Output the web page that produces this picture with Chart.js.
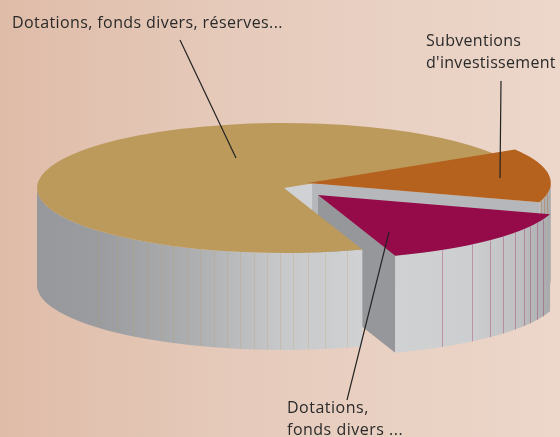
<!DOCTYPE html>
<html><head><meta charset="utf-8">
<style>html,body{margin:0;padding:0;width:560px;height:437px;overflow:hidden;background:linear-gradient(90deg,#dfbca8 0%,#e6cbbc 45%,#ecd7ca 100%)}canvas{display:block}</style>
<script src="https://cdn.jsdelivr.net/npm/chart.js@4"></script>
</head><body><canvas id="c" width="560" height="437"></canvas>
<script>
const categories=["Dotations, fonds divers, réserves...","Subventions d'investissement","Dotations, fonds divers ..."];
const values=[71.4,13.6,15];
const colors=["#bc9a5c","#b5621f","#950a48"];
const facetColors=["rgba(188,154,92,.24)","rgba(181,98,31,.35)","rgba(149,10,72,.3)"];
const facetDeg=[
 [138.9,132.5,127.7,123.7,119.9,116.7,113.1,109.9,106.5,103.3,100.3,97,94,91,88,84.4,80.4,75.2],
 [16.3,13.7,10],
 [59.3,50.8,44.9,40.4,35.9,32.2,29.5,26,22.6]];
const place=[{x:284,y:188,s:1},{x:307.5,y:183,s:.985},{x:318,y:195,s:.985}];
const K=.263,H=97,R=247,rad=Math.PI/180;
const wallStops=[
 [[36,"#96989b"],[100,"#9a9c9f"],[200,"#aeb0b2"],[280,"#c6c8ca"],[362,"#d0d1d3"]],
 [[540,"#b4b6b8"],[552,"#a6a8aa"]],
 [[394,"#d0d1d3"],[470,"#cdced0"],[520,"#bfc0c2"],[553,"#a6a8aa"]]];
const labels=[
 {lines:["Dotations, fonds divers, réserves..."],x:12,y:28,lh:0,sp:"0.4px"},
 {lines:["Subventions","d'investissement"],x:426,y:46,lh:22,sp:"0.3px"},
 {lines:["Dotations,","fonds divers ..."],x:287,y:413,lh:22,sp:"0.5px"}];
const leaders=[[180,40,236,158],[501,81,500,178],[389,232,347,400]];

function topPoint(p,a){return [p.x+Math.cos(a)*R*p.s,p.y+Math.sin(a)*R*p.s*K];}
function outerWall(ctx,i,a0,a1){
 const p=place[i],r=R*p.s,ry=r*K,st=wallStops[i];
 const g=ctx.createLinearGradient(st[0][0],0,st[st.length-1][0],0);
 const w=st[st.length-1][0]-st[0][0];
 st.forEach(s=>g.addColorStop((s[0]-st[0][0])/w,s[1]));
 ctx.beginPath();
 ctx.ellipse(p.x,p.y,r,ry,0,a0,a1,false);
 ctx.ellipse(p.x,p.y+H,r,ry,0,a1,a0,true);
 ctx.closePath();ctx.fillStyle=g;ctx.fill();
 ctx.strokeStyle=facetColors[i];ctx.lineWidth=1;
 facetDeg[i].forEach(d=>{
  const q=topPoint(p,d*rad),x=Math.round(q[0])+.5;
  ctx.beginPath();ctx.moveTo(x,q[1]);ctx.lineTo(x,q[1]+H);ctx.stroke();
 });
}
function radialFace(ctx,i,a,color,from){
 const p=place[i],e=topPoint(p,a),f=from||0;
 const sx=p.x+(e[0]-p.x)*f,sy=p.y+(e[1]-p.y)*f;
 ctx.beginPath();ctx.moveTo(sx,sy);ctx.lineTo(e[0],e[1]);ctx.lineTo(e[0],e[1]+H);ctx.lineTo(sx,sy+H);ctx.closePath();
 ctx.fillStyle=color;ctx.fill();
}
function drawTop(ctx,i,arc){
 const p=place[i];
 ctx.save();ctx.translate(p.x,p.y);ctx.scale(p.s,K*p.s);ctx.translate(-arc.x,-arc.y);arc.draw(ctx);ctx.restore();
}
const scene={id:"scene",beforeDatasetsDraw(chart){
 const ctx=chart.ctx,arcs=chart.getDatasetMeta(0).data,[g,o,m]=arcs;
 const norm=a=>{a%=2*Math.PI;return a<0?a+2*Math.PI:a;};
 radialFace(ctx,0,g.endAngle,"#cfd1d4");
 outerWall(ctx,1,0,norm(o.endAngle));
 radialFace(ctx,1,o.endAngle,"#b5b7ba",.02);
 radialFace(ctx,2,m.endAngle,"#95979a");
 outerWall(ctx,0,norm(g.startAngle),Math.PI);
 drawTop(ctx,0,g);drawTop(ctx,1,o);
 outerWall(ctx,2,norm(m.startAngle),norm(m.endAngle));
 drawTop(ctx,2,m);
 ctx.strokeStyle="#222";ctx.lineWidth=1.2;
 leaders.forEach(l=>{ctx.beginPath();ctx.moveTo(l[0],l[1]);ctx.lineTo(l[2],l[3]);ctx.stroke();});
 ctx.fillStyle="#2a2a2a";ctx.font='16px "Open Sans"';ctx.textAlign="left";ctx.textBaseline="alphabetic";
 labels.forEach(L=>{ctx.letterSpacing=L.sp;L.lines.forEach((t,j)=>ctx.fillText(t,L.x,L.y+j*L.lh));});
 return false;
}};
new Chart(document.getElementById("c"),{type:"pie",
 data:{labels:categories,datasets:[{data:values,backgroundColor:colors,borderWidth:0}]},
 options:{responsive:false,animation:false,events:[],rotation:161.5,radius:R,layout:{padding:0},
  plugins:{legend:{display:false},tooltip:{enabled:false}}},
 plugins:[scene]});
</script></body></html>
